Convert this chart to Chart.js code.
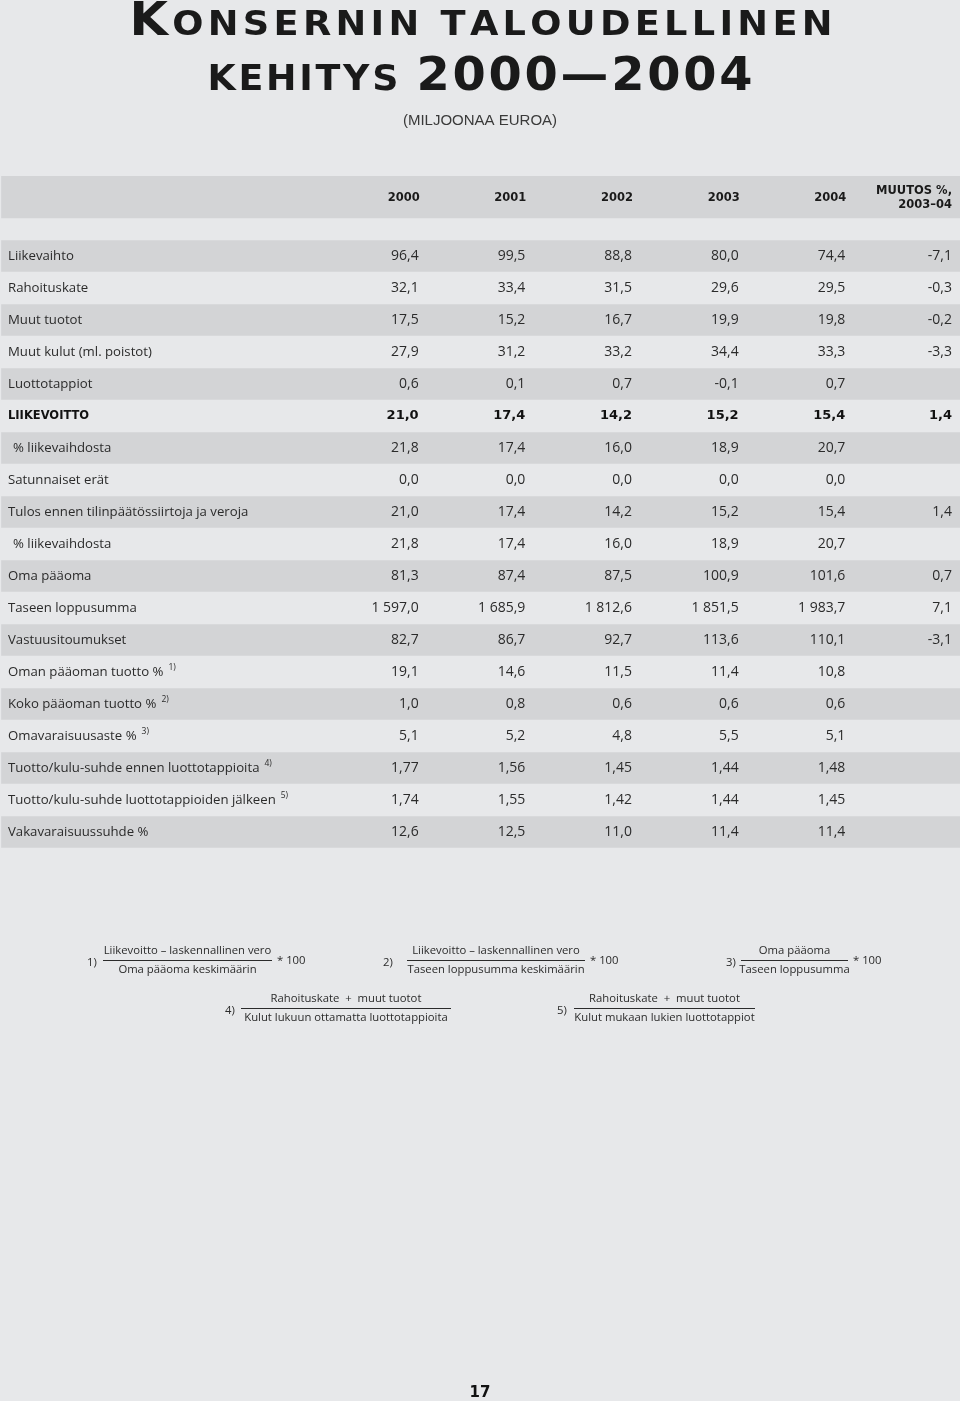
<!DOCTYPE html>
<html>
<head>
<meta charset="utf-8">
<script src="https://cdn.jsdelivr.net/npm/chart.js@4.4.1/dist/chart.umd.min.js"></script>
<style>
  html, body { margin: 0; padding: 0; background: #e7e8ea; }
  #wrap { width: 960px; height: 1401px; position: relative; }
</style>
</head>
<body>
<div id="wrap"><canvas id="table"></canvas></div>
<script>
// table content
const rowLabels = [
  "Liikevaihto",
  "Rahoituskate",
  "Muut tuotot",
  "Muut kulut (ml. poistot)",
  "Luottotappiot",
  "LIIKEVOITTO",
  "% liikevaihdosta",
  "Satunnaiset erät",
  "Tulos ennen tilinpäätössiirtoja ja veroja",
  "% liikevaihdosta",
  "Oma pääoma",
  "Taseen loppusumma",
  "Vastuusitoumukset",
  "Oman pääoman tuotto %",
  "Koko pääoman tuotto %",
  "Omavaraisuusaste %",
  "Tuotto/kulu-suhde ennen luottotappioita",
  "Tuotto/kulu-suhde luottotappioiden jälkeen",
  "Vakavaraisuussuhde %",
];
const rowNotes = ["", "", "", "", "", "", "", "", "", "", "", "", "", "1)", "2)", "3)", "4)", "5)", ""];
const rowDecimals = [1, 1, 1, 1, 1, 1, 1, 1, 1, 1, 1, 1, 1, 1, 1, 1, 2, 2, 1];
const boldRows = [5];
const indentRows = [6, 9];

const columnHeads = ["2000", "2001", "2002", "2003", "2004"];
const changeHead = ["MUUTOS %,", "2003–04"];

const v2000 = [96.4, 32.1, 17.5, 27.9, 0.6, 21.0, 21.8, 0.0, 21.0, 21.8, 81.3, 1597.0, 82.7, 19.1, 1.0, 5.1, 1.77, 1.74, 12.6];
const v2001 = [99.5, 33.4, 15.2, 31.2, 0.1, 17.4, 17.4, 0.0, 17.4, 17.4, 87.4, 1685.9, 86.7, 14.6, 0.8, 5.2, 1.56, 1.55, 12.5];
const v2002 = [88.8, 31.5, 16.7, 33.2, 0.7, 14.2, 16.0, 0.0, 14.2, 16.0, 87.5, 1812.6, 92.7, 11.5, 0.6, 4.8, 1.45, 1.42, 11.0];
const v2003 = [80.0, 29.6, 19.9, 34.4, -0.1, 15.2, 18.9, 0.0, 15.2, 18.9, 100.9, 1851.5, 113.6, 11.4, 0.6, 5.5, 1.44, 1.44, 11.4];
const v2004 = [74.4, 29.5, 19.8, 33.3, 0.7, 15.4, 20.7, 0.0, 15.4, 20.7, 101.6, 1983.7, 110.1, 10.8, 0.6, 5.1, 1.48, 1.45, 11.4];
const change = [-7.1, -0.3, -0.2, -3.3, null, 1.4, null, null, 1.4, null, 0.7, 7.1, -3.1, null, null, null, null, null, null];

const BG = "#e7e8ea";
const BAND = "#d3d4d6";
const INK = "#2b2b2b";
const BODY_FONT = "'Open Sans', 'Noto Sans', sans-serif";
const BOLD_FONT = "'DejaVu Sans', sans-serif";

function fmt(v, d) {
  if (v === null || v === undefined) return "";
  const neg = v < 0;
  const parts = Math.abs(v).toFixed(d).split(".");
  const ip = parts[0].replace(/\B(?=(\d{3})+(?!\d))/g, " ");
  return (neg ? "-" : "") + ip + (parts[1] ? "," + parts[1] : "");
}

// shaded bands: header + every other row
const headerBand = [{ x: [0, 9], y: -1.34375 }];
const rowBands = [];
rowLabels.forEach((_, i) => { if (i % 2 === 0) rowBands.push({ x: [0, 9], y: i + 0.5 }); });

function spacedText(ctx, parts, cx, baseline, width, sx) {
  // parts: [text, fontSize]; glyphs stretched by sx, gaps spread to fill width
  let natural = 0, count = 0;
  parts.forEach(([t, s]) => {
    ctx.font = "bold " + s + "px " + BOLD_FONT;
    for (const ch of t) { natural += ctx.measureText(ch).width * sx; count++; }
  });
  const gap = (width - natural) / (count - 1);
  let x = cx - width / 2;
  ctx.textAlign = "left";
  ctx.textBaseline = "alphabetic";
  parts.forEach(([t, s]) => {
    ctx.font = "bold " + s + "px " + BOLD_FONT;
    for (const ch of t) {
      ctx.save();
      ctx.translate(x, baseline);
      ctx.scale(sx, 1);
      ctx.fillText(ch, 0, 0);
      ctx.restore();
      x += ctx.measureText(ch).width * sx + gap;
    }
  });
}

function fraction(ctx, tag, tagX, num, den, x1, x2, lineY, times) {
  ctx.font = "11.3px " + BODY_FONT;
  ctx.fillStyle = INK;
  ctx.textBaseline = "middle";
  ctx.textAlign = "left";
  ctx.fillText(tag, tagX, lineY + 3);
  ctx.textAlign = "center";
  const cx = (x1 + x2) / 2;
  ctx.fillText(num, cx, lineY - 9);
  ctx.fillText(den, cx, lineY + 10);
  ctx.strokeStyle = INK;
  ctx.lineWidth = 1;
  ctx.beginPath();
  ctx.moveTo(x1, lineY + 0.5);
  ctx.lineTo(x2, lineY + 0.5);
  ctx.stroke();
  if (times) {
    ctx.textAlign = "left";
    ctx.fillText("* 100", x2 + 5, lineY + 1);
  }
}

const tableText = {
  id: "tableText",
  afterDraw(chart) {
    const { ctx, scales: { x, y } } = chart;
    ctx.save();
    ctx.fillStyle = "#1a1a1a";

    // title
    spacedText(ctx, [["K", 46], ["ONSERNIN", 34], [" ", 34], ["TALOUDELLINEN", 34]], 481, 35, 703, 1.08);
    spacedText(ctx, [["KEHITYS", 35], [" ", 35], ["2000—2004", 46]], 480, 90, 545, 1.04);
    ctx.font = "15px 'Liberation Sans Narrow', 'Liberation Sans', sans-serif";
    ctx.fillStyle = "#3a3a3a";
    ctx.textAlign = "center";
    ctx.textBaseline = "middle";
    ctx.fillText("(MILJOONAA EUROA)", 480, 121);

    // header
    const hy = y.getPixelForValue(-1.34375);
    ctx.fillStyle = "#1a1a1a";
    ctx.font = "bold 11.5px " + BOLD_FONT;
    ctx.textAlign = "right";
    columnHeads.forEach((h, c) => ctx.fillText(h, x.getPixelForValue(c + 4) - 7, hy + 1));
    ctx.fillText(changeHead[0], x.getPixelForValue(9) - 8, hy - 6);
    ctx.fillText(changeHead[1], x.getPixelForValue(9) - 8, hy + 8);

    // rows
    const cols = [v2000, v2001, v2002, v2003, v2004, change];
    rowLabels.forEach((label, i) => {
      const cy = y.getPixelForValue(i + 0.5);
      const bold = boldRows.includes(i);
      ctx.fillStyle = bold ? "#111" : INK;
      ctx.textAlign = "left";
      ctx.font = bold ? "bold 11.5px " + BOLD_FONT : "13.2px " + BODY_FONT;
      const lx = x.getPixelForValue(0) + (indentRows.includes(i) ? 13 : 8);
      ctx.fillText(label, lx, cy);
      if (rowNotes[i]) {
        const w = ctx.measureText(label).width;
        ctx.font = "8.5px " + BODY_FONT;
        ctx.fillText(rowNotes[i], lx + w + 5, cy - 4);
      }
      ctx.textAlign = "right";
      ctx.font = bold ? "bold 13px " + BOLD_FONT : "14px " + BODY_FONT;
      cols.forEach((col, c) => {
        ctx.fillText(fmt(col[i], rowDecimals[i]), x.getPixelForValue(c + 4) - 8, cy);
      });
    });

    // formulas
    fraction(ctx, "1)", 87, "Liikevoitto – laskennallinen vero", "Oma pääoma keskimäärin", 103, 272, 960, true);
    fraction(ctx, "2)", 383, "Liikevoitto – laskennallinen vero", "Taseen loppusumma keskimäärin", 407, 585, 960, true);
    fraction(ctx, "3)", 726, "Oma pääoma", "Taseen loppusumma", 741, 848, 960, true);
    fraction(ctx, "4)", 225, "Rahoituskate  +  muut tuotot", "Kulut lukuun ottamatta luottotappioita", 241, 451, 1008, false);
    fraction(ctx, "5)", 557, "Rahoituskate  +  muut tuotot", "Kulut mukaan lukien luottotappiot", 574, 755, 1008, false);

    // page number
    ctx.fillStyle = "#111";
    ctx.font = "bold 15px " + BOLD_FONT;
    ctx.textAlign = "center";
    ctx.textBaseline = "middle";
    ctx.fillText("17", 480, 1393);
    ctx.restore();
  },
};

new Chart(document.getElementById("table"), {
  type: "bar",
  data: {
    datasets: [
      { label: "header", data: headerBand, backgroundColor: BAND, maxBarThickness: 42, grouped: false },
      { label: "rows", data: rowBands, backgroundColor: BAND, maxBarThickness: 31, grouped: false },
    ],
  },
  options: {
    indexAxis: "y",
    responsive: true,
    maintainAspectRatio: false,
    animation: false,
    layout: { padding: { top: 176, bottom: 553, left: 0, right: 0 } },
    datasets: { bar: { categoryPercentage: 1, barPercentage: 1, borderWidth: 0 } },
    plugins: { legend: { display: false }, tooltip: { enabled: false }, title: { display: false } },
    events: [],
    scales: {
      x: {
        type: "linear",
        min: 0,
        max: 9,
        offset: false,
        z: 1,
        border: { display: false },
        ticks: { display: false, stepSize: 1 },
        grid: {
          drawTicks: false,
          lineWidth: 3,
          color: (c) => (c.tick && (c.tick.value === 0 || c.tick.value === 9) ? "rgba(0,0,0,0)" : BG),
        },
      },
      y: {
        type: "linear",
        reverse: true,
        min: -2,
        max: 19,
        offset: false,
        display: false,
      },
    },
  },
  plugins: [tableText],
});
</script>
</body>
</html>
